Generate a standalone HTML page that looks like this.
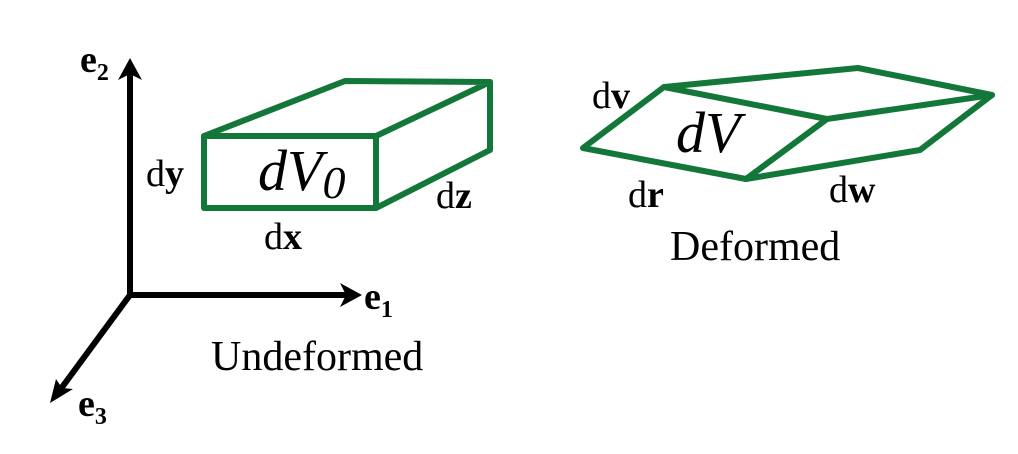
<!DOCTYPE html>
<html><head><meta charset="utf-8"><style>
html,body{margin:0;padding:0;background:#fff;}
svg{display:block;}
</style></head><body>
<svg width="1018" height="454" viewBox="0 0 1018 454" xmlns="http://www.w3.org/2000/svg">
<g stroke="#000" stroke-width="6" fill="none" stroke-linecap="square">
<line x1="130" y1="295" x2="130" y2="72"/>
<line x1="130" y1="295" x2="348" y2="295"/>
<line x1="130" y1="295" x2="60" y2="390"/>
</g>
<g fill="#000">
<polygon points="130,58 118,80 130,74 142,80"/>
<polygon points="362,295 340,283 346,295 340,307"/>
<polygon points="50,403 56,379 62,388 73,389"/>
</g>
<g stroke="#14773a" stroke-width="6" fill="none" stroke-linejoin="round" stroke-linecap="round">
<rect x="204" y="136" width="172" height="72"/>
<polyline points="204,136 345,81 490,82 376,136"/>
<polyline points="490,82 490,150 376,208"/>
<polygon points="583,148 664,87 827,119 746,179"/>
<polyline points="664,87 858,68 992,95 827,119"/>
<polyline points="992,95 920,150 746,179"/>
</g>
<g font-family="'Liberation Serif', 'Times New Roman', serif" fill="#000">
<text x="80" y="72" font-size="38" font-weight="bold">e<tspan font-size="24" dy="8">2</tspan></text>
<text x="364" y="309" font-size="38" font-weight="bold">e<tspan font-size="24" dy="8">1</tspan></text>
<text x="78" y="416" font-size="38" font-weight="bold">e<tspan font-size="24" dy="8">3</tspan></text>
<text x="146" y="186" font-size="38">d<tspan font-weight="bold">y</tspan></text>
<text x="264" y="249" font-size="38">d<tspan font-weight="bold">x</tspan></text>
<text x="436" y="208" font-size="38">d<tspan font-weight="bold">z</tspan></text>
<text x="258" y="190" font-size="58" font-style="italic">dV<tspan font-size="46" dy="8">0</tspan></text>
<text x="211" y="370" font-size="42">Undeformed</text>
<text x="592" y="108" font-size="38">d<tspan font-weight="bold">v</tspan></text>
<text x="628" y="207" font-size="38">d<tspan font-weight="bold">r</tspan></text>
<text x="829" y="202" font-size="38">d<tspan font-weight="bold">w</tspan></text>
<text x="676" y="152" font-size="58" font-style="italic">dV</text>
<text x="670" y="260" font-size="42">Deformed</text>
</g>
</svg>
</body></html>
